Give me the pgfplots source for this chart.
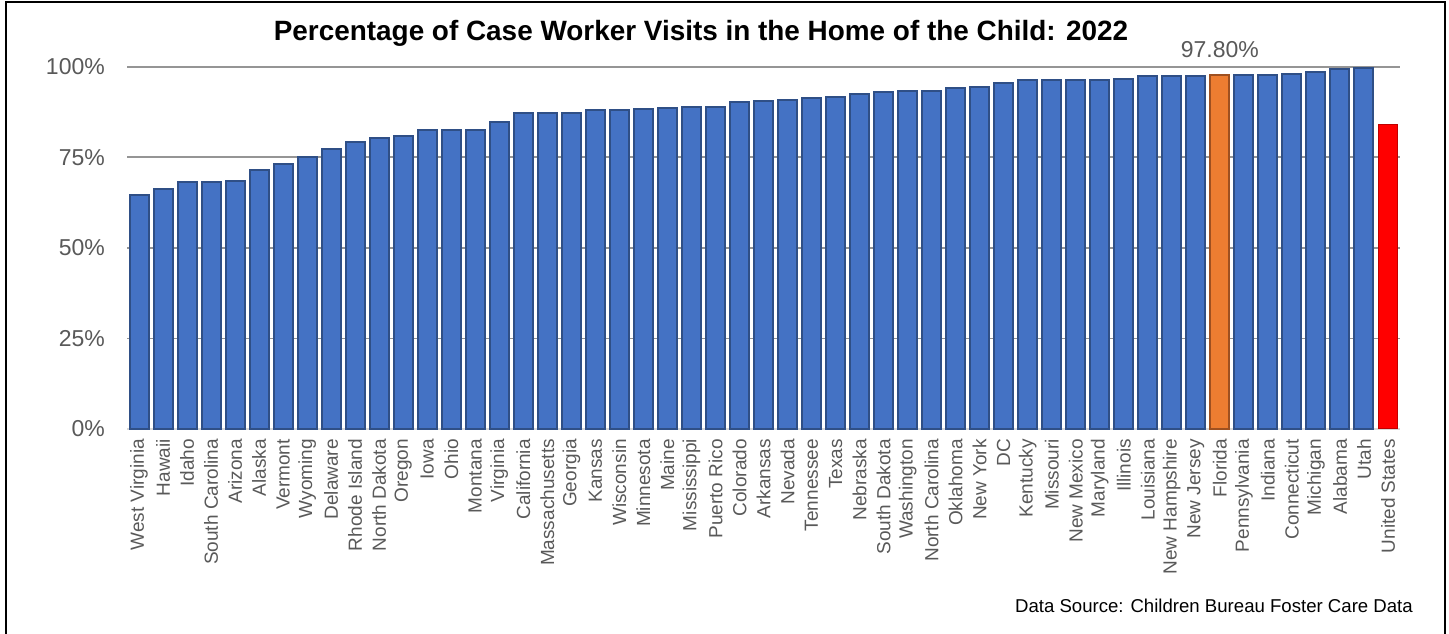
\documentclass[border=0pt]{standalone}
\usepackage{pgfplots}
\usepackage{pgfplotstable}
\pgfplotsset{compat=1.18}
\usepackage{fontspec}
\setmainfont{Liberation Sans}
\definecolor{barblue}{HTML}{4472C4}
\definecolor{edgeblue}{HTML}{2F4F86}
\definecolor{barorange}{HTML}{ED7D31}
\definecolor{edgeorange}{HTML}{9E5020}
\definecolor{barred}{HTML}{FF0000}
\definecolor{edgered}{HTML}{C00000}
\definecolor{ticktext}{HTML}{595959}
\definecolor{gridgray}{HTML}{959595}
\definecolor{axisgray}{HTML}{D9D9D9}

\pgfplotstableread{
x y
0 64.6
1 66.3
2 68.1
3 68.3
4 68.5
5 71.6
6 73.1
7 75.1
8 77.4
9 79.2
10 80.3
11 80.8
12 82.5
13 82.5
14 82.6
15 84.8
16 87.1
17 87.3
18 87.3
19 88.0
20 88.1
21 88.4
22 88.7
23 88.9
24 89.0
25 90.3
26 90.5
27 90.7
28 91.3
29 91.7
30 92.6
31 92.9
32 93.2
33 93.2
34 94.0
35 94.3
36 95.5
37 96.2
38 96.2
39 96.3
40 96.3
41 96.5
42 97.5
43 97.5
44 97.5
46 97.8
47 97.8
48 98.0
49 98.6
50 99.4
51 99.7
}\statedata
\pgfplotstableread{
x y
45 97.8
}\floridadata
\pgfplotstableread{
x y
52 84.1
}\usdata

\begin{document}
\begin{tikzpicture}[x=1pt,y=1pt]
\path[use as bounding box] (0,0) rectangle (1449,634);
\draw[line width=2pt, black] (6,632) rectangle (1445,-10);
\begin{axis}[
  at={(127pt,205pt)}, anchor=south west,
  scale only axis, width=1273pt, height=362.3pt,
  xmin=-0.5, xmax=52.5, ymin=0, ymax=100,
  clip=false,
  ybar, bar width=19pt, bar shift=0pt,
  axis x line*=bottom, axis y line*=left,
  y axis line style={draw=none},
  x axis line style={draw=axisgray, line width=1.5pt},
  major tick length=0pt,
  ytick={25,50,75,100},
  yticklabels={25\%,50\%,75\%,100\%},
  extra y ticks={0}, extra y tick labels={0\%},
  extra y tick style={grid=none},
  ymajorgrids, grid style={draw=gridgray, line width=1.8pt},
  yticklabel style={font=\fontsize{23}{23}\selectfont, text=ticktext, anchor=east, inner sep=0pt},
  yticklabel shift=22pt,
  xtick={0,...,52},
  xticklabels={West Virginia,Hawaii,Idaho,South Carolina,Arizona,Alaska,Vermont,Wyoming,Delaware,Rhode Island,North Dakota,Oregon,Iowa,Ohio,Montana,Virginia,California,Massachusetts,Georgia,Kansas,Wisconsin,Minnesota,Maine,Mississippi,Puerto Rico,Colorado,Arkansas,Nevada,Tennessee,Texas,Nebraska,South Dakota,Washington,North Carolina,Oklahoma,New York,DC,Kentucky,Missouri,New Mexico,Maryland,Illinois,Louisiana,New Hampshire,New Jersey,Florida,Pennsylvania,Indiana,Connecticut,Michigan,Alabama,Utah,United States},
  xticklabel style={font=\fontsize{19}{19}\selectfont, text=ticktext, rotate=90, anchor=east, inner sep=0pt},
  xticklabel shift=10pt,
]
\addplot[fill=barblue, draw=edgeblue, line width=2pt] table[x=x,y=y]{\statedata};
\addplot[fill=barorange, draw=edgeorange, line width=2pt] table[x=x,y=y]{\floridadata};
\addplot[fill=barred, draw=edgered, line width=1pt] table[x=x,y=y]{\usdata};
\node[anchor=base, font=\fontsize{23}{23}\selectfont, text=ticktext] at (axis cs:45,102.6) {97.80\%};
\end{axis}
\node[anchor=base, font=\bfseries\fontsize{27.9}{27.9}\selectfont] at (701,593) {Percentage of Case Worker Visits in the Home of the Child: 2022};
\node[anchor=base east, font=\fontsize{18.6}{18.6}\selectfont, inner sep=0pt] at (1413,21) {Data Source: Children Bureau Foster Care Data};
\end{tikzpicture}
\end{document}
